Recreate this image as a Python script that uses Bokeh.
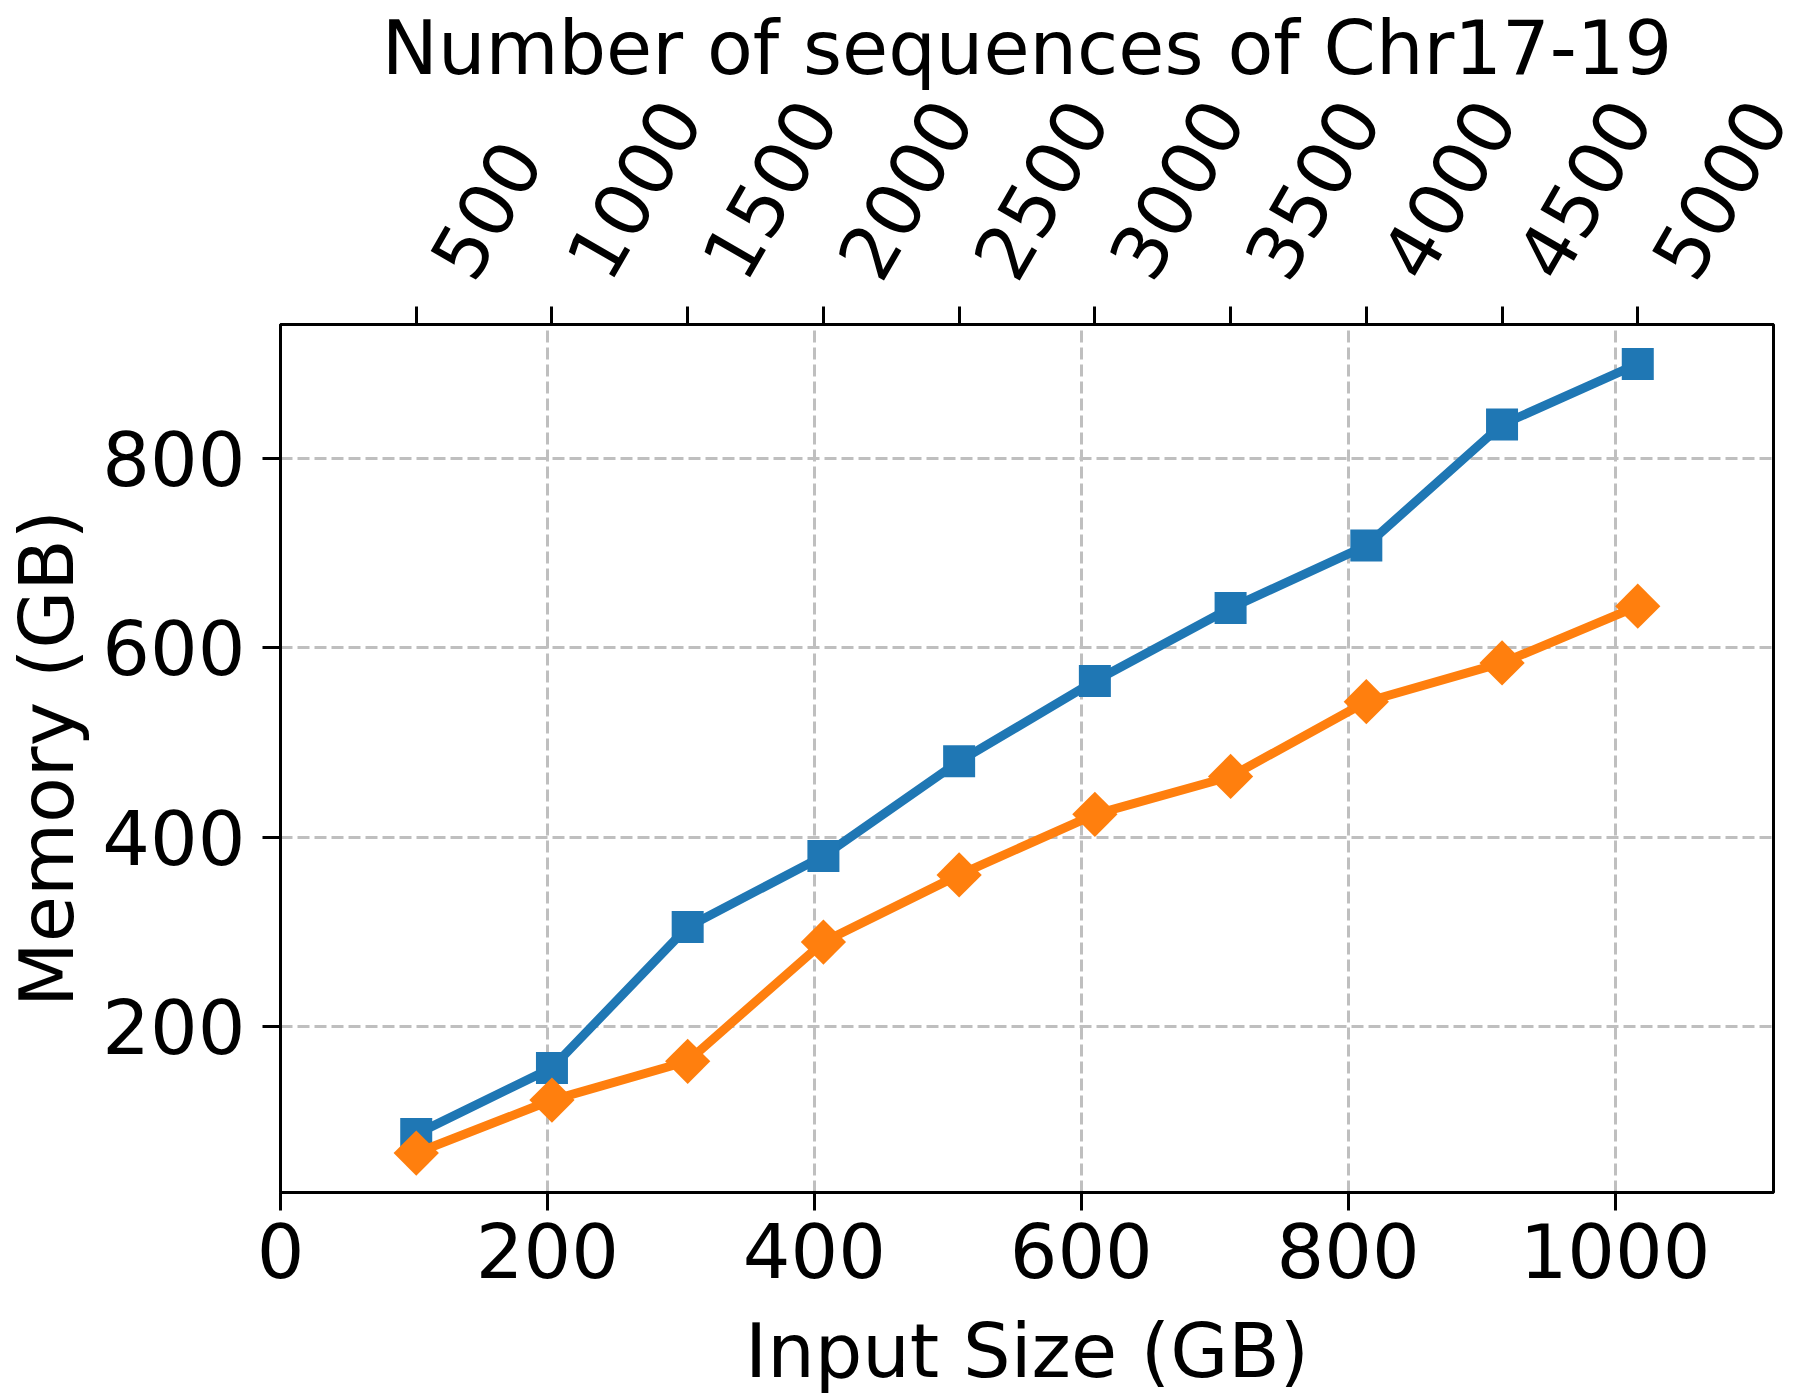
from math import pi
from bokeh.plotting import figure
from bokeh.models import Range1d, LinearAxis, FixedTicker
from bokeh.embed import file_html
from bokeh.resources import INLINE

# ---- data ----
seq_counts = [500, 1000, 1500, 2000, 2500, 3000, 3500, 4000, 4500, 5000]
input_size_gb = [101.7, 203.4, 305.1, 406.8, 508.5, 610.2, 711.9, 813.6, 915.3, 1017.0]
memory_square = [86, 156, 305, 380, 480, 565, 642, 708, 836, 900]
memory_diamond = [66, 122, 163, 289, 360, 424, 464, 543, 584, 644]
x_ticks = [0, 200, 400, 600, 800, 1000]
y_ticks = [200, 400, 600, 800]
top_ticks = [500, 1000, 1500, 2000, 2500, 3000, 3500, 4000, 4500, 5000]

x_title = "Input Size (GB)"
y_title = "Memory (GB)"
top_title = "Number of sequences of Chr17-19"

BLUE = "#1f77b4"
ORANGE = "#ff7f0e"
FONT = "DejaVu Sans"
FS = "75px"

FRAME_W, FRAME_H = 1493, 868
LABEL_SHIFT_PX = 34  # rotated top labels sit right of their ticks (left-aligned box)

x_max = max(input_size_gb) * 1.1
y_span = max(memory_square) - min(memory_diamond)
y_lo = min(memory_diamond) - 0.05 * y_span
y_hi = max(memory_square) + 0.05 * y_span
seq_max = max(seq_counts) * 1.1
shift = LABEL_SHIFT_PX * seq_max / FRAME_W

p = figure(frame_width=FRAME_W, frame_height=FRAME_H,
           output_backend="svg", toolbar_location=None,
           x_range=Range1d(0, x_max), y_range=Range1d(y_lo, y_hi),
           min_border_left=280, min_border_right=27, min_border_top=324,
           min_border_bottom=208,
           x_axis_label=x_title, y_axis_label=y_title)
p.extra_x_ranges = {"seq": Range1d(0, seq_max),
                    "seq_lbl": Range1d(-shift, seq_max - shift)}

# top axis 1: tick marks only (drawn as minor ticks, so no labels)
top_ticks_axis = LinearAxis(x_range_name="seq",
                            ticker=FixedTicker(ticks=[], minor_ticks=top_ticks))
top_ticks_axis.major_tick_out = 18
top_ticks_axis.minor_tick_out = 18
top_ticks_axis.minor_tick_in = 0
top_ticks_axis.minor_tick_line_width = 3
top_ticks_axis.minor_tick_line_color = "black"
top_ticks_axis.major_label_standoff = 0
p.add_layout(top_ticks_axis, "above")

# top axis 2: rotated labels + title
top_lbl_axis = LinearAxis(x_range_name="seq_lbl", ticker=FixedTicker(ticks=top_ticks),
                          axis_label=top_title)
top_lbl_axis.axis_line_color = None
top_lbl_axis.major_tick_line_color = None
top_lbl_axis.major_tick_out = 0
top_lbl_axis.minor_tick_out = 0
top_lbl_axis.major_label_orientation = pi / 3
top_lbl_axis.major_label_standoff = 35
top_lbl_axis.axis_label_standoff = -16
p.add_layout(top_lbl_axis, "above")

bottom = p.below[0]
left = p.left[0]
bottom.ticker = FixedTicker(ticks=x_ticks)
left.ticker = FixedTicker(ticks=y_ticks)

for ax in (bottom, left):
    ax.major_tick_out = 18
    ax.minor_tick_out = 0
    ax.minor_tick_in = 0

for ax in (bottom, left, top_ticks_axis, top_lbl_axis):
    ax.major_tick_in = 0
    ax.major_tick_line_width = 3
    ax.axis_line_width = 3
    ax.major_label_text_font = FONT
    ax.major_label_text_font_size = FS
    ax.major_label_text_color = "black"
    ax.axis_label_text_font = FONT
    ax.axis_label_text_font_size = FS
    ax.axis_label_text_font_style = "normal"
    ax.axis_label_text_color = "black"

bottom.major_label_standoff = 12
bottom.axis_label_standoff = 26
left.major_label_standoff = 17
left.axis_label_standoff = 8

p.xgrid.ticker = FixedTicker(ticks=x_ticks)
p.ygrid.ticker = FixedTicker(ticks=y_ticks)
for g in (p.xgrid, p.ygrid):
    g.grid_line_color = "#bfbfbf"
    g.grid_line_width = 3
    g.grid_line_dash = "12 5"

p.outline_line_color = "black"
p.outline_line_width = 3
p.outline_line_alpha = 1.0
p.background_fill_color = "white"
p.border_fill_color = "white"

p.line(input_size_gb, memory_square, line_color=BLUE, line_width=9)
p.scatter(input_size_gb, memory_square, marker="square", size=32,
          fill_color=BLUE, line_color=BLUE, line_width=0)
p.line(input_size_gb, memory_diamond, line_color=ORANGE, line_width=9)
p.scatter(input_size_gb, memory_diamond, marker="square", angle=pi / 4, size=32,
          fill_color=ORANGE, line_color=ORANGE, line_width=0)

open("out.html", "w").write(file_html(p, INLINE))
